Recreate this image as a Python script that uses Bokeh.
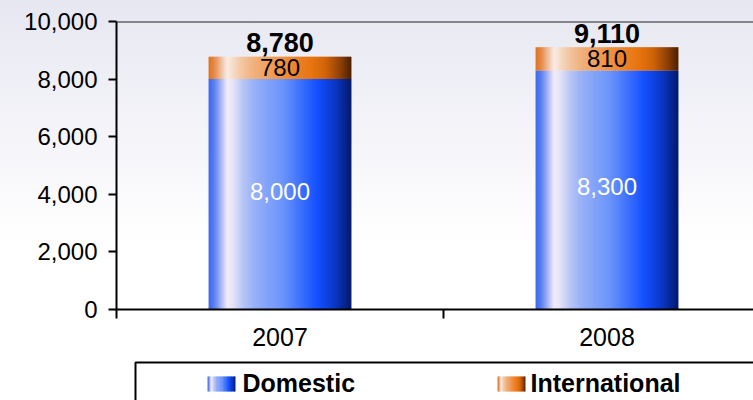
import numpy as np
from bokeh.plotting import figure
from bokeh.models import ColumnDataSource, Range1d, FixedTicker, NumeralTickFormatter, Span
from bokeh.layouts import column
from bokeh.embed import file_html
from bokeh.resources import INLINE
from bokeh.core.properties import value

# ---------------- data ----------------
categories = ["2007", "2008"]
domestic = [8000, 8300]
international = [780, 810]
totals = [8780, 9110]
y_ticks = [0, 2000, 4000, 6000, 8000, 10000]
series_names = ["Domestic", "International"]

# ---------------- style / layout ----------------
FONT = "Liberation Sans"
FIG_W = 753
FRAME_LEFT = 116
BAR_W = 0.437
X_VIEW_END = 1.948
N_STRIPS = 72

BLUE_STOPS = [(0.0, "#3a68ee"), (0.04, "#5a80f0"), (0.13, "#f2eaf8"), (0.17, "#e6e4f8"),
              (0.24, "#b8c6f6"), (0.32, "#98b0f8"), (0.52, "#6a94fa"), (0.76, "#1450ff"),
              (0.88, "#0a38c8"), (1.0, "#04196a")]
ORANGE_STOPS = [(0.0, "#e07020"), (0.04, "#e68a48"), (0.13, "#f8ece8"), (0.17, "#f6dcc8"),
                (0.24, "#f2c49c"), (0.32, "#f0b07c"), (0.52, "#f09040"), (0.72, "#e87410"),
                (0.82, "#d06408"), (0.92, "#904008"), (1.0, "#4a2000")]


def hex2rgb(h):
    h = h.lstrip("#")
    return np.array([int(h[i:i + 2], 16) for i in (0, 2, 4)], dtype=float)


def interp(stops, t):
    for (t0, c0), (t1, c1) in zip(stops[:-1], stops[1:]):
        if t0 <= t <= t1:
            f = 0 if t1 == t0 else (t - t0) / (t1 - t0)
            c = hex2rgb(c0) * (1 - f) + hex2rgb(c1) * f
            return "#%02x%02x%02x" % tuple(int(round(v)) for v in c)
    return stops[-1][1]


def strips(x0, x1, bottom, top, stops, n, acc):
    w = (x1 - x0) / n
    for k in range(n):
        left = x0 + k * w
        right = min(x1, left + w * 1.5)
        acc["left"].append(left)
        acc["right"].append(right)
        acc["bottom"].append(bottom)
        acc["top"].append(top)
        acc["color"].append(interp(stops, (k + 0.5) / n))


centers = [i + 0.5 for i in range(len(categories))]

dom_acc = {"left": [], "right": [], "bottom": [], "top": [], "color": []}
int_acc = {"left": [], "right": [], "bottom": [], "top": [], "color": []}
for cx, d, it in zip(centers, domestic, international):
    strips(cx - BAR_W / 2, cx + BAR_W / 2, 0, d, BLUE_STOPS, N_STRIPS, dom_acc)
    strips(cx - BAR_W / 2, cx + BAR_W / 2, d, d + it, ORANGE_STOPS, N_STRIPS, int_acc)

p = figure(width=FIG_W, height=356, x_range=Range1d(0, X_VIEW_END), y_range=Range1d(0, 10000),
           toolbar_location=None, output_backend="svg",
           min_border_left=FRAME_LEFT, min_border_top=21, min_border_bottom=47, min_border_right=0)
p.background_fill_color = None
p.border_fill_color = None
p.styles = {"background": "linear-gradient(to bottom, #e7e7f2 0%, #ffffff 68%)"}
p.outline_line_color = None
p.grid.visible = False

p.quad(left="left", right="right", bottom="bottom", top="top", fill_color="color",
       line_color=None, source=ColumnDataSource(dom_acc))
p.quad(left="left", right="right", bottom="bottom", top="top", fill_color="color",
       line_color=None, source=ColumnDataSource(int_acc))

p.add_layout(Span(location=y_ticks[-1], dimension="width", line_color="#222222", line_width=2))

# labels (text_baseline "middle"; negative y_offset moves up)
p.text(x=centers, y=totals, text=[f"{v:,}" for v in totals], text_font=value(FONT),
       text_font_style="bold", text_font_size="27px", text_align="center",
       text_baseline="middle", y_offset=-14, text_color="black")
p.text(x=centers, y=[d + i / 2 for d, i in zip(domestic, international)],
       text=[f"{v:,}" for v in international], text_font=value(FONT), text_font_size="24px",
       text_align="center", text_baseline="middle", y_offset=0, text_color="black")
p.text(x=centers, y=[d / 2 for d in domestic], text=[f"{v:,}" for v in domestic],
       text_font=value(FONT), text_font_size="24px", text_align="center",
       text_baseline="middle", y_offset=-3, text_color="white")

# axes
xa = p.xaxis[0]
xa.ticker = FixedTicker(ticks=centers, minor_ticks=list(range(len(categories) + 1)))
xa.major_label_overrides = {c: lab for c, lab in zip(centers, categories)}
xa.major_tick_line_color = None
xa.major_tick_out = 9
xa.minor_tick_out = 9
xa.minor_tick_in = 0
xa.minor_tick_line_width = 2
xa.minor_tick_line_color = "black"
xa.axis_line_width = 2
xa.axis_line_color = "black"
xa.major_label_standoff = 9
xa.major_label_text_font = FONT
xa.major_label_text_font_size = "25px"
xa.major_label_text_color = "black"

ya = p.yaxis[0]
ya.ticker = FixedTicker(ticks=y_ticks, minor_ticks=[])
ya.formatter = NumeralTickFormatter(format="0,0")
ya.major_tick_out = 8
ya.major_tick_in = 0
ya.major_tick_line_width = 2
ya.major_tick_line_color = "black"
ya.axis_line_width = 2
ya.axis_line_color = "black"
ya.major_label_standoff = 11
ya.major_label_text_font = FONT
ya.major_label_text_font_size = "24px"
ya.major_label_text_color = "black"

# ---------------- legend (separate strip; x in page pixels) ----------------
LEG_H = 44
lf = figure(width=FIG_W, height=LEG_H, x_range=Range1d(FRAME_LEFT, FIG_W),
            y_range=Range1d(0, LEG_H), toolbar_location=None, output_backend="svg",
            x_axis_type=None, y_axis_type=None, min_border=0,
            min_border_left=FRAME_LEFT, min_border_right=0)
lf.grid.visible = False
lf.outline_line_color = None
lf.background_fill_color = "white"
lf.border_fill_color = "white"

lf.quad(left=[135], right=[FIG_W + 20], bottom=[-10], top=[LEG_H - 6], fill_color=None,
        line_color="black", line_width=2)

swatch_x = [207, 497]
text_x = [242, 530]
sw_acc = {"left": [], "right": [], "bottom": [], "top": [], "color": []}
for sx, stops in zip(swatch_x, [BLUE_STOPS, ORANGE_STOPS]):
    strips(sx, sx + 28, 9, 24, stops, 20, sw_acc)
lf.quad(left="left", right="right", bottom="bottom", top="top", fill_color="color",
        line_color=None, source=ColumnDataSource(sw_acc))
lf.text(x=text_x, y=[18, 18], text=series_names, text_font=value(FONT),
        text_font_style="bold", text_font_size="25px", text_align="left",
        text_baseline="middle", text_color="black")

layout = column(p, lf, spacing=0)
open("out.html", "w").write(file_html(layout, INLINE))
